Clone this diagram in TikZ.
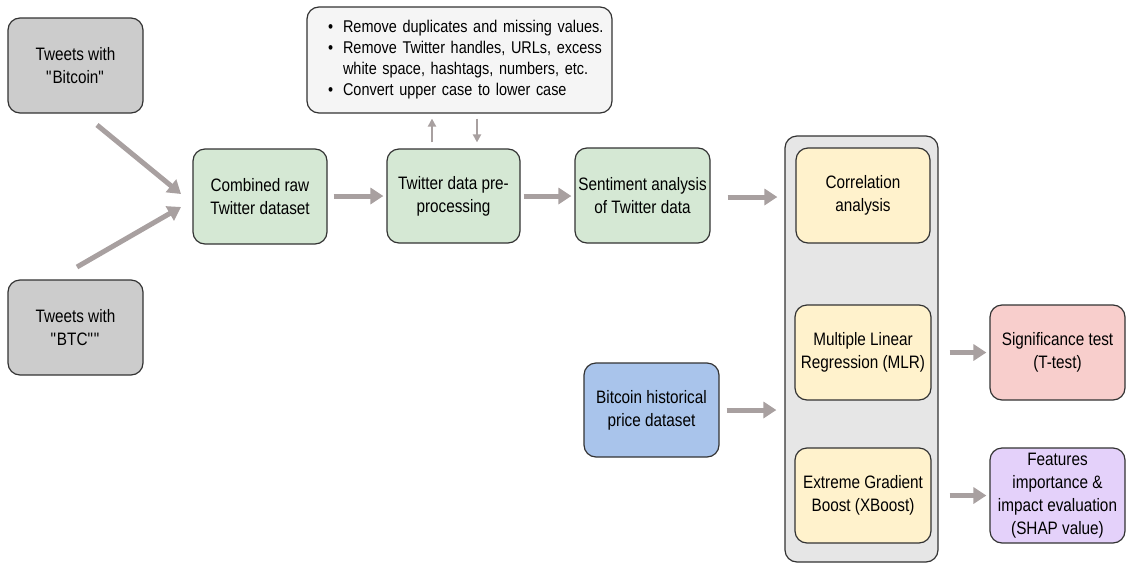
\documentclass[tikz,border=0pt]{standalone}
\usepackage{fontspec}
\setmainfont{Liberation Sans}[FakeStretch=0.85]
\usetikzlibrary{arrows.meta,calc}
\definecolor{bd}{HTML}{333333}
\definecolor{cgray}{HTML}{CCCCCC}
\definecolor{cgreen}{HTML}{D5E8D4}
\definecolor{clight}{HTML}{F5F5F5}
\definecolor{cgroup}{HTML}{E6E6E6}
\definecolor{cyellow}{HTML}{FFF2CC}
\definecolor{cblue}{HTML}{A9C4EB}
\definecolor{cred}{HTML}{F8CECC}
\definecolor{cpurple}{HTML}{E4D1FA}
\definecolor{carrow}{HTML}{A8A0A0}
\begin{document}
\begin{tikzpicture}[x=1pt,y=-1pt,
  box/.style={draw=bd, line width=1.2pt, rounded corners=12pt, align=center,
    inner sep=0pt, font=\fontsize{18}{23}\selectfont,
    minimum width=135pt, minimum height=95pt},
  bigarrow/.style={draw=carrow, line width=5pt, -{Triangle[length=13pt,width=16pt]}},
  smallarrow/.style={draw=carrow, line width=2.5pt, -{Triangle[length=8pt,width=8pt]}}
]
\useasboundingbox (0,0) rectangle (1128,563);

% group background
\node[box, fill=cgroup, minimum width=153pt, minimum height=426pt] (grp) at (861.5,349) {};

\node[box, fill=cgray] (tb) at (75.5,65.5) {Tweets with\\\textquotedbl Bitcoin\textquotedbl};
\node[box, fill=cgray] (tbtc) at (75.5,327.5) {Tweets with\\\textquotedbl BTC\textquotedbl\textquotedbl};
\node[box, fill=cgreen, minimum width=134pt] (comb) at (260,196.5) {Combined raw\\Twitter dataset};
\node[box, fill=cgreen, minimum width=133pt, minimum height=94pt] (pre) at (453.5,196) {Twitter data pre-\\processing};
\node[box, fill=cgreen] (sent) at (642.5,195.5) {Sentiment analysis\\of Twitter data};
\node[box, fill=clight, minimum width=305pt, text width=305pt, align=left, minimum height=106pt, font=\fontsize{17}{21}\selectfont] (clean) at (459.5,60)
 {\hspace*{21pt}\begin{tabular}{@{}l@{\hspace{10pt}}l@{}}
 \textbullet & Remove duplicates and missing values.\\
 \textbullet & Remove Twitter handles, URLs, excess\\
  & white space, hashtags, numbers, etc.\\
 \textbullet & Convert upper case to lower case
 \end{tabular}};

\node[box, fill=cyellow, minimum width=134pt] (corr) at (863,195.5) {Correlation\\analysis};
\node[box, fill=cyellow, minimum width=136pt] (mlr) at (863,352.5) {Multiple Linear\\Regression (MLR)};
\node[box, fill=cyellow, minimum width=136pt] (xb) at (863,495.5) {Extreme Gradient\\Boost (XBoost)};
\node[box, fill=cblue, minimum height=94pt] (hist) at (651.5,410) {Bitcoin historical\\price dataset};
\node[box, fill=cred] (sig) at (1057.5,352.5) {Significance test\\(T-test)};
\node[box, fill=cpurple] (feat) at (1057.5,495.5) {Features\\importance \&\\impact evaluation\\(SHAP value)};

% connectors
\coordinate (a1s) at (97,125);
\coordinate (a1e) at (181,194);
\coordinate (a2s) at (77,267);
\coordinate (a2e) at (181,207);
\draw[bigarrow] (a1s) -- (a1e);
\draw[bigarrow] (a2s) -- (a2e);

\draw[bigarrow, shorten <=6pt, shorten >=3pt] (comb.east |- 0,196) -- (pre.west |- 0,196);
\draw[bigarrow, shorten <=3pt, shorten >=3pt] (pre.east |- 0,196) -- (sent.west |- 0,196);
\draw[bigarrow, shorten <=17pt, shorten >=7pt] (sent.east |- 0,197) -- (grp.west |- 0,197);
\draw[bigarrow, shorten <=7pt, shorten >=8pt] (hist.east) -- (grp.west |- hist.east);
\draw[bigarrow, shorten <=11pt, shorten >=3pt] (grp.east |- mlr.east) -- (sig.west);
\draw[bigarrow, shorten <=11pt, shorten >=3pt] (grp.east |- xb.east) -- (feat.west);

\draw[smallarrow, shorten <=6pt, shorten >=5pt] (pre.north -| 432,0) -- (clean.south -| 432,0);
\draw[smallarrow, shorten <=5pt, shorten >=6pt] (clean.south -| 477,0) -- (pre.north -| 477,0);
\end{tikzpicture}
\end{document}
